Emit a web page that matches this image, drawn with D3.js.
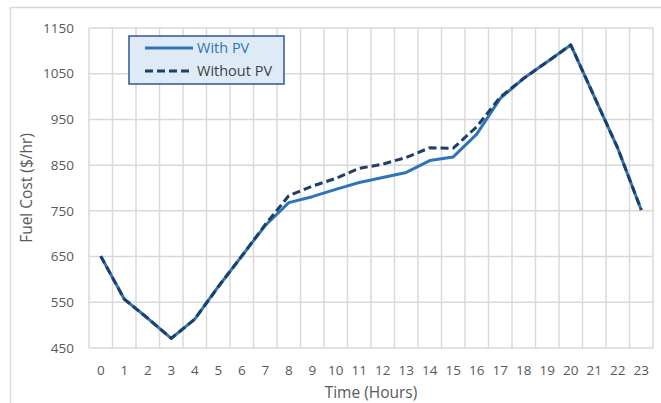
<!DOCTYPE html>
<html>
<head>
<meta charset="utf-8">
<style>
body { margin: 0; background: #fff; }
svg { font-family: "Open Sans", "Noto Sans", sans-serif; }
.grid line { stroke: #d9d9d9; stroke-width: 1.5px; }
.tick-label { fill: #595959; font-size: 13.5px; }
.axis-title { fill: #595959; font-size: 15.5px; }
</style>
<script src="https://d3js.org/d3.v7.min.js"></script>
</head>
<body>
<svg width="661" height="403"></svg>
<script>

var hours = d3.range(0, 24);
var withPV = [651, 557, 515, 471, 513, 584, 651, 718, 768, 781, 797, 812,
              823, 834, 860, 868, 918, 996, 1040, 1076, 1113, 1000, 887, 752];
var withoutPV = [651, 557, 515, 471, 513, 584, 651, 720, 783, 804, 821, 843,
                 852, 867, 888, 887, 934, 999, 1040, 1076, 1113, 1000, 887, 752];
var yTicks = [450, 550, 650, 750, 850, 950, 1050, 1150];

var svg = d3.select("svg"),
    margin = {top: 28, left: 89, right: 8, bottom: 55},
    width = 661 - margin.left - margin.right,
    height = 403 - margin.top - margin.bottom;

// chart area border
svg.append("rect")
    .attr("x", 10.5).attr("y", 7.5)
    .attr("width", 660).attr("height", 400)
    .attr("fill", "none")
    .attr("stroke", "#d9d9d9")
    .attr("stroke-width", 1.5);

var g = svg.append("g").attr("transform", "translate(" + margin.left + "," + margin.top + ")");

var x = d3.scaleBand()
    .domain(hours)
    .range([0, 564]);

var y = d3.scaleLinear()
    .domain([450, 1150])
    .range([320, 0]);

// gridlines
var grid = g.append("g").attr("class", "grid");
grid.selectAll(".h")
  .data(yTicks)
  .enter().append("line")
    .attr("x1", 0).attr("x2", 564)
    .attr("y1", function(d) { return y(d); })
    .attr("y2", function(d) { return y(d); });

grid.selectAll(".v")
  .data(hours.concat([24]))
  .enter().append("line")
    .attr("x1", function(d) { return d * x.step(); })
    .attr("x2", function(d) { return d * x.step(); })
    .attr("y1", 0).attr("y2", 320);

// tick labels
g.selectAll(".ylab")
  .data(yTicks)
  .enter().append("text")
    .attr("class", "tick-label")
    .attr("x", -15)
    .attr("y", function(d) { return y(d); })
    .attr("dy", "0.35em")
    .attr("text-anchor", "end")
    .text(function(d) { return d; });

g.selectAll(".xlab")
  .data(hours)
  .enter().append("text")
    .attr("class", "tick-label")
    .attr("x", function(d) { return x(d) + x.bandwidth() / 2; })
    .attr("y", 347)
    .attr("text-anchor", "middle")
    .text(function(d) { return d; });

// axis titles
g.append("text")
    .attr("class", "axis-title")
    .attr("x", 282)
    .attr("y", 370)
    .attr("text-anchor", "middle")
    .text("Time (Hours)");

g.append("text")
    .attr("class", "axis-title")
    .attr("transform", "translate(-57,160) rotate(-90)")
    .attr("text-anchor", "middle")
    .text("Fuel Cost ($/hr)");

// lines
var line = d3.line()
    .x(function(d, i) { return x(hours[i]) + x.bandwidth() / 2; })
    .y(function(d) { return y(d); });

g.append("path")
    .datum(withPV)
    .attr("d", line)
    .attr("fill", "none")
    .attr("stroke", "#2e75b6")
    .attr("stroke-width", 3)
    .attr("stroke-linejoin", "round");

g.append("path")
    .datum(withoutPV)
    .attr("d", line)
    .attr("fill", "none")
    .attr("stroke", "#1f3f66")
    .attr("stroke-width", 3)
    .attr("stroke-dasharray", "8,4")
    .attr("stroke-linejoin", "round");

// legend
var legend = svg.append("g").attr("transform", "translate(129,36)");
legend.append("rect")
    .attr("width", 155).attr("height", 48)
    .attr("fill", "#deebf7")
    .attr("stroke", "#2f5597")
    .attr("stroke-width", 1.5);

legend.append("line")
    .attr("x1", 16).attr("x2", 64).attr("y1", 12).attr("y2", 12)
    .attr("stroke", "#2e75b6").attr("stroke-width", 3);
legend.append("text")
    .attr("x", 68).attr("y", 12).attr("dy", "0.35em")
    .attr("fill", "#2e75b6").style("font-size", "14.5px")
    .text("With PV");

legend.append("line")
    .attr("x1", 16).attr("x2", 64).attr("y1", 35).attr("y2", 35)
    .attr("stroke", "#1f3f66").attr("stroke-width", 3)
    .attr("stroke-dasharray", "8,4");
legend.append("text")
    .attr("x", 68).attr("y", 35).attr("dy", "0.35em")
    .attr("fill", "#404040").style("font-size", "14.5px")
    .text("Without PV");

</script>
</body>
</html>
